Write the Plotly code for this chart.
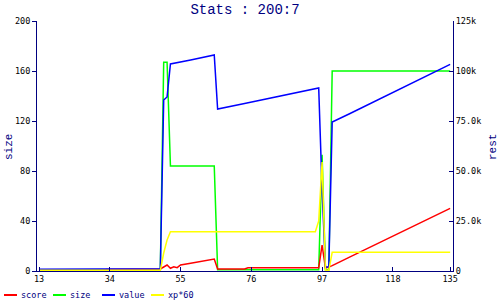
import plotly.graph_objects as go

# ---- data ----
x_vals = [13, 32, 33, 48, 49, 50, 51, 52, 53, 54, 55, 58, 65, 66, 74, 75, 95, 96, 97, 98, 99, 100, 105, 135]
score = [350, 350, 750, 750, 1000, 2000, 3000, 1350, 2150, 1650, 3000, 3900, 6000, 1000, 1000, 1650, 1650, 1650, 13000, 1500, 2000, 2700, 6800, 31300]
size = [1, 1, 1, 1, 1, 167, 167, 84, 84, 84, 84, 84, 84, 1, 1, 1, 1, 1, 93, 1, 1, 160, 160, 160]
value = [850, 850, 1150, 1150, 1150, 85500, 87000, 103500, 103800, 104100, 104400, 105500, 108000, 81000, 83800, 84150, 91150, 91500, 40500, 2000, 2000, 74500, 78500, 103300]
xp60 = [350, 350, 350, 350, 350, 9000, 15500, 19650, 19650, 19650, 19650, 19650, 19650, 19650, 19650, 19650, 19650, 25000, 54500, 350, 350, 9350, 9350, 9350]

series_names = ["score", "size", "value", "xp*60"]
series_colors = ["#ff0000", "#00ff00", "#0000ff", "#ffff00"]

x_ticks = [13, 34, 55, 76, 97, 118, 135]
left_ticks = [0, 40, 80, 120, 160, 200]
right_ticks = [0, 25000, 50000, 75000, 100000, 125000]
right_ticktext = ["0", "25.0k", "50.0k", "75.0k", "100k", "125k"]

title_text = "Stats : 200:7"
left_title = "size"
right_title = "rest"

NAVY = "#000080"
FONT = "DejaVu Sans Mono"
TFONT = "Liberation Mono"

fig = go.Figure()
ys = [score, size, value, xp60]
axes = ["y2", "y", "y2", "y2"]
for name, yv, col, ax in zip(series_names, ys, series_colors, axes):
    fig.add_trace(go.Scatter(x=x_vals, y=yv, mode="lines", name=name, yaxis=ax,
                             line=dict(color=col, width=1.5), showlegend=False))

L, R, T, B = 37, 47, 21, 29
PW, PH = 500 - L - R, 300 - T - B

fig.update_layout(
    width=500, height=300,
    margin=dict(l=L, r=R, t=T, b=B, pad=0),
    paper_bgcolor="white", plot_bgcolor="white",
    title=dict(text=title_text, x=0.5, xref="paper", y=1 - 9 / 300, yref="container",
               xanchor="center", yanchor="middle",
               font=dict(family=TFONT, size=14, color=NAVY)),
    xaxis=dict(range=[12.4, 135.85], tickvals=x_ticks, showgrid=False, zeroline=False,
               showline=True, linecolor=NAVY, linewidth=1, ticks="inside", ticklen=4,
               tickcolor=NAVY, tickfont=dict(family=FONT, size=8.5, color="black")),
    yaxis=dict(range=[0, 200], tickvals=left_ticks, showgrid=False, zeroline=False,
               showline=True, linecolor=NAVY, linewidth=1, ticks="outside", ticklen=4,
               tickcolor=NAVY, tickfont=dict(family=FONT, size=8.5, color="black")),
    yaxis2=dict(range=[0, 125000], overlaying="y", side="right", tickvals=right_ticks,
                ticktext=right_ticktext, showgrid=False, zeroline=False,
                showline=True, linecolor=NAVY, linewidth=1, ticks="inside", ticklen=4,
                tickcolor=NAVY, tickfont=dict(family=FONT, size=8.5, color="black")),
)

def px_x(p):
    return (p - L) / PW

def px_y(p):
    return (300 - B - p) / PH

# axis titles
fig.add_annotation(text=left_title, x=px_x(9), y=px_y(147), xref="paper", yref="paper",
                   textangle=-90, showarrow=False, xanchor="center", yanchor="middle",
                   font=dict(family=TFONT, size=11, color=NAVY))
fig.add_annotation(text=right_title, x=px_x(493), y=px_y(147), xref="paper", yref="paper",
                   textangle=-90, showarrow=False, xanchor="center", yanchor="middle",
                   font=dict(family=TFONT, size=11, color=NAVY))

# manual legend
leg_x0 = [4, 53, 102, 151]
leg_y = 295
for name, col, x0 in zip(series_names, series_colors, leg_x0):
    fig.add_shape(type="line", xref="paper", yref="paper",
                  x0=px_x(x0), x1=px_x(x0 + 13), y0=px_y(leg_y), y1=px_y(leg_y),
                  line=dict(color=col, width=2))
    fig.add_annotation(text=name, x=px_x(x0 + 15), y=px_y(leg_y), xref="paper", yref="paper",
                       showarrow=False, xanchor="left", yanchor="middle",
                       font=dict(family=FONT, size=8.5, color=NAVY))

fig.write_html("out.html")
